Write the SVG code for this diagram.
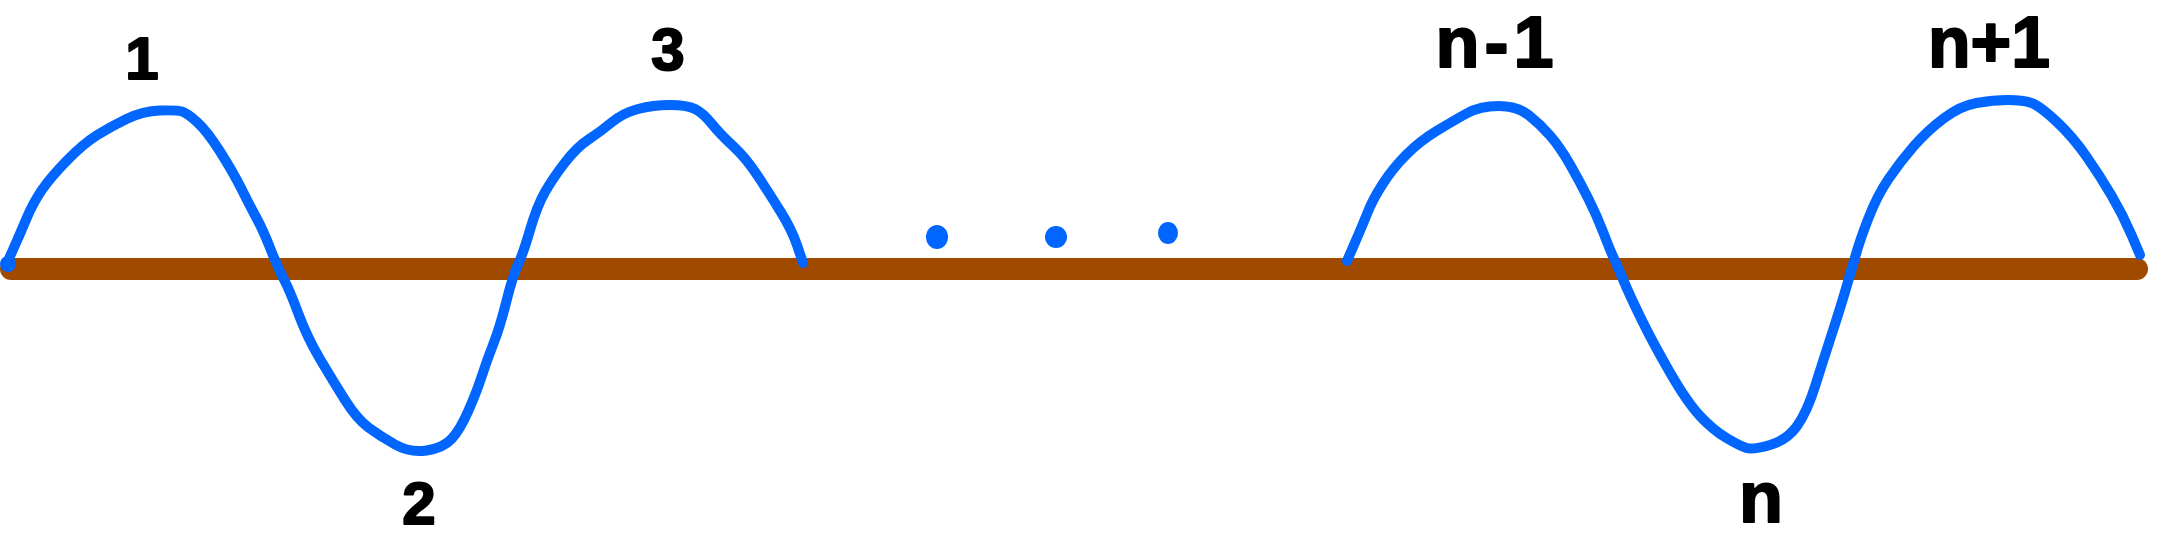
<svg xmlns="http://www.w3.org/2000/svg" width="2160" height="539" viewBox="0 0 2160 539">
<style>
.axis{stroke:#A04A00;stroke-width:22;stroke-linecap:round;fill:none}
.wave{stroke:#0066FF;stroke-width:10;stroke-linecap:round;stroke-linejoin:round;fill:none}
.dot{fill:#0066FF}
.lbl{font-family:"Liberation Sans","DejaVu Sans",sans-serif;font-weight:bold;fill:#000;stroke:#000;stroke-width:2;stroke-linejoin:round;text-anchor:middle}
.dig{font-size:60px}
.nl{font-size:72px}
</style>
<rect width="2160" height="539" fill="#fff"/>
<g id="axis">
<line class="axis" x1="11" y1="269" x2="2137" y2="269"/>
</g>
<g id="wave">
<path class="wave" d="M7,263 L13.5,248.5 Q20,234 26.5,218.5 Q33,203 41.5,190.5 Q50,178 66.5,161 Q83,144 96.5,135.5 Q110,127 126.5,119 Q143,111 160,110.5 Q177,110 182,111.5 Q187,113 197,122 Q207,131 220,151.5 Q233,172 241.5,189 Q250,206 256.5,218 Q263,230 270.5,249 Q278,268 284,279.5 Q290,291 298.5,314 Q307,337 320,359 Q333,381 345,400 Q357,419 368.5,427.5 Q380,436 395,444.5 Q410,453 426.5,450.5 Q443,448 451.5,439 Q460,430 468.5,410.5 Q477,391 482,375.5 Q487,360 493.5,343.5 Q500,327 506.5,301 Q513,275 518,264.5 Q523,254 530,230 Q537,206 545,192 Q553,178 565,162.5 Q577,147 588.5,139.5 Q600,132 611.5,122.5 Q623,113 638,109 Q653,105 670,105 Q687,105 695,109 Q703,113 711.5,123.5 Q720,134 733,146 Q746,158 757.5,175.5 Q769,193 780.5,211.5 Q792,230 797.5,246.5 L803,263"/>
<path class="wave" d="M1347,261 L1355,242.5 Q1363,224 1368,211.5 Q1373,199 1383,183.5 Q1393,168 1406.5,154.5 Q1420,141 1436.5,131 Q1453,121 1466.5,113.5 Q1480,106 1498.5,106 Q1517,106 1528.5,115 Q1540,124 1550,135.5 Q1560,147 1570,164.5 Q1580,182 1588.5,199 Q1597,216 1603.5,233 Q1610,250 1613.5,257.5 Q1617,265 1623.5,280.5 Q1630,296 1641.5,319.5 Q1653,343 1670,372.5 Q1687,402 1700,416 Q1713,430 1726.5,438 Q1740,446 1746.5,448 Q1753,450 1770,445 Q1787,440 1797,426 Q1807,412 1815,386.5 Q1823,361 1831.5,335 Q1840,309 1846,288.5 Q1852,268 1856,254 Q1860,240 1868.5,218 Q1877,196 1888.5,179 Q1900,162 1913.5,146.5 Q1927,131 1943.5,118.5 Q1960,106 1976.5,103 Q1993,100 2008,100 Q2023,100 2031.5,103 Q2040,106 2056.5,121.5 Q2073,137 2086.5,156.5 Q2100,176 2111.5,195.5 Q2123,215 2131.5,235 L2140,255"/>
<circle class="dot" cx="8" cy="264" r="8"/>
</g>
<g id="dots">
<ellipse class="dot" cx="937" cy="237" rx="11" ry="12"/>
<ellipse class="dot" cx="1056" cy="237" rx="11" ry="11"/>
<ellipse class="dot" cx="1168" cy="233" rx="10" ry="11"/>
</g>
<g id="label-1"><text class="lbl dig" x="142" y="79">1</text></g>
<g id="label-2"><text class="lbl dig" x="419" y="524">2</text></g>
<g id="label-3"><text class="lbl dig" x="668" y="70">3</text></g>
<g id="label-n-1"><text class="lbl nl" x="1497" y="67" letter-spacing="5">n-1</text></g>
<g id="label-n"><text class="lbl nl" x="1761" y="522">n</text></g>
<g id="label-n+1"><text class="lbl nl" x="1989" y="67" textLength="122" lengthAdjust="spacingAndGlyphs">n+1</text></g>
</svg>
